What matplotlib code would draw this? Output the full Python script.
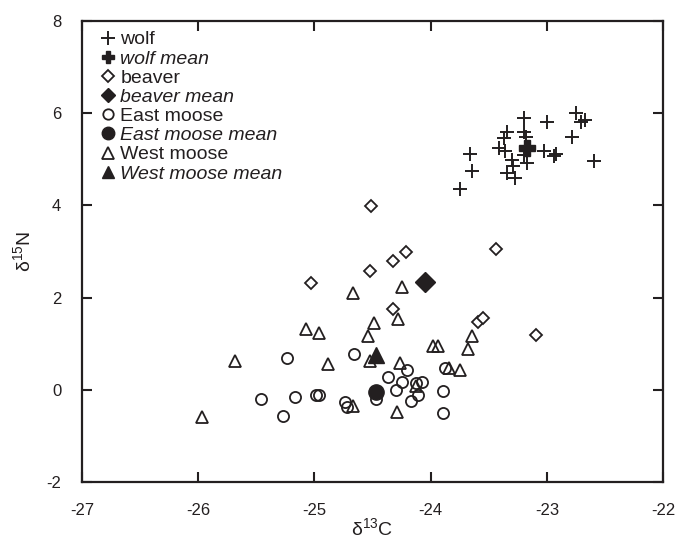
import matplotlib
matplotlib.use('Agg')
import matplotlib.pyplot as plt

plt.rcParams['font.family'] = ['Liberation Sans', 'DejaVu Sans']
plt.rcParams['mathtext.fontset'] = 'custom'
plt.rcParams['mathtext.rm'] = 'Liberation Sans'

INK = '#231f20'

# wolf
wolf_x = [-23.66, -23.64, -23.75, -23.34, -23.37, -23.20, -23.20, -23.18, -23.41, -23.36, -23.30,
          -23.29, -23.34, -23.27, -23.17, -23.20, -23.02, -23.00, -22.92, -22.94, -22.75, -22.71,
          -22.67, -22.78, -22.59]
wolf_y = [5.11, 4.75, 4.36, 5.59, 5.46, 5.89, 5.60, 5.48, 5.25, 5.19, 4.99,
          4.86, 4.71, 4.60, 4.91, 5.09, 5.19, 5.82, 5.11, 5.07, 6.01, 5.82,
          5.85, 5.49, 4.96]
wolf_mean = (-23.17, 5.25)

# beaver
beaver_x = [-24.51, -25.03, -24.52, -24.32, -24.21, -24.32, -23.59, -23.55, -23.44, -23.09]
beaver_y = [3.99, 2.31, 2.57, 2.80, 2.98, 1.75, 1.48, 1.55, 3.05, 1.19]
beaver_mean = (-24.05, 2.33)

# East moose
east_x = [-25.24, -24.66, -25.46, -25.17, -25.27, -24.99, -24.96, -24.74, -24.72, -24.47, -24.37,
          -24.20, -24.25, -24.30, -24.13, -24.07, -24.11, -24.17, -23.89, -23.89, -23.88]
east_y = [0.68, 0.77, -0.20, -0.15, -0.57, -0.11, -0.11, -0.27, -0.38, -0.21, 0.27,
          0.42, 0.18, 0.00, 0.14, 0.16, -0.11, -0.24, -0.02, -0.51, 0.48]
east_mean = (-24.47, -0.05)

# West moose
west_x = [-24.67, -24.25, -25.07, -24.96, -24.49, -24.28, -24.54, -25.68, -24.88, -24.52, -24.26,
          -23.98, -23.94, -23.64, -23.68, -23.84, -23.75, -24.13, -24.67, -24.29, -25.97]
west_y = [2.09, 2.22, 1.31, 1.23, 1.46, 1.53, 1.17, 0.63, 0.56, 0.63, 0.59,
          0.94, 0.94, 1.17, 0.88, 0.47, 0.43, 0.08, -0.35, -0.48, -0.58]
west_mean = (-24.47, 0.76)

x_ticks = [-27, -26, -25, -24, -23, -22]
y_ticks = [-2, 0, 2, 4, 6, 8]

fig = plt.figure(figsize=(6.91, 5.46), dpi=100)
ax = fig.add_axes([0.1187, 0.1172, 0.8408, 0.8443])

ax.plot(wolf_x, wolf_y, '+', color=INK, ms=10, mew=1.4, linestyle='none', label='wolf')
ax.plot(*wolf_mean, 'P', color=INK, ms=12, linestyle='none', label='wolf mean', zorder=5)
ax.plot(beaver_x, beaver_y, 'D', ms=6, markerfacecolor='white', markeredgecolor=INK,
        markeredgewidth=1.3, linestyle='none', label='beaver')
ax.plot(*beaver_mean, 'D', color=INK, ms=10, linestyle='none', label='beaver mean', zorder=5)
ax.plot(east_x, east_y, 'o', ms=8, markerfacecolor='none', markeredgecolor=INK,
        markeredgewidth=1.3, linestyle='none', label='East moose')
ax.plot(*east_mean, 'o', color=INK, ms=11, linestyle='none', label='East moose mean', zorder=5)
ax.plot(west_x, west_y, '^', ms=8.5, markerfacecolor='none', markeredgecolor=INK,
        markeredgewidth=1.3, linestyle='none', label='West moose')
ax.plot(*west_mean, '^', color=INK, ms=11, linestyle='none', label='West moose mean', zorder=5)

ax.set_xlim(-27, -22)
ax.set_ylim(-2, 8)
ax.set_xticks(x_ticks)
ax.set_yticks(y_ticks)
ax.set_xticklabels([str(t) for t in x_ticks])
ax.set_yticklabels([str(t) for t in y_ticks])
ax.tick_params(direction='in', length=7, width=1.5, color=INK, labelsize=12,
               top=True, right=True, labelcolor=INK)
ax.tick_params(axis='x', pad=15)
ax.tick_params(axis='y', pad=15)
for s in ax.spines.values():
    s.set_linewidth(1.6)
    s.set_color(INK)

ax.set_xlabel('δ$^{13}$C', fontsize=14, color=INK, labelpad=0)
ax.set_ylabel('δ$^{15}$N', fontsize=14, color=INK, labelpad=8)

leg = ax.legend(loc='upper left', bbox_to_anchor=(0.016, 1.0), frameon=False, fontsize=14,
                handlelength=0.7, handletextpad=0.3, labelspacing=0.08,
                borderaxespad=0.3, borderpad=0.2)
legend_sizes = [10, 9, 6.5, 7.5, 7.5, 9, 8, 9]
for h, ms in zip(leg.legend_handles, legend_sizes):
    h.set_markersize(ms)
for t in leg.get_texts():
    if 'mean' in t.get_text():
        t.set_style('italic')
    t.set_color(INK)

fig.savefig('out.png', dpi=100)
